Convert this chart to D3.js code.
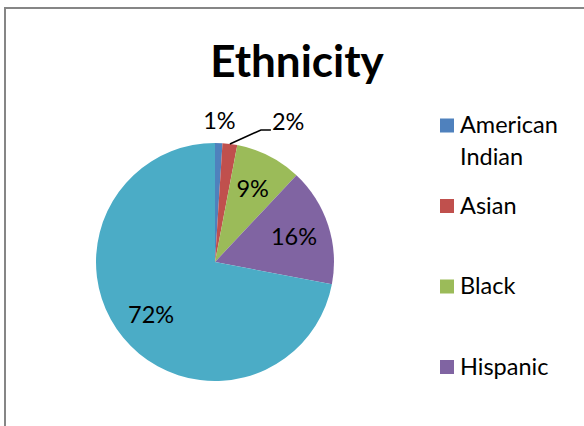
<!DOCTYPE html>
<html>
<head>
<meta charset="utf-8">
<script src="https://cdn.jsdelivr.net/npm/d3@7"></script>
<style>
  html, body { margin: 0; padding: 0; background: #fff; }
  svg { display: block; }
</style>
</head>
<body>
<div id="chart"></div>
<script>
// Ethnicity breakdown (percent of total)
const categories = ["American Indian", "Asian", "Black", "Hispanic", "White"];
const values = [1, 2, 9, 16, 72];
const colors = ["#4F81BD", "#C0504D", "#9BBB59", "#8064A2", "#4BACC6"];
const title = "Ethnicity";

const W = 584, H = 426;
const font = "Lato, 'Open Sans', sans-serif";

const svg = d3.select("#chart").append("svg")
  .attr("width", W).attr("height", H)
  .attr("viewBox", `0 0 ${W} ${H}`);

// chart frame (runs past the right and bottom edges)
svg.append("rect")
  .attr("x", 5).attr("y", 8)
  .attr("width", W + 40).attr("height", H + 40)
  .attr("fill", "#fff")
  .attr("stroke", "#868686")
  .attr("stroke-width", 2);

// title
svg.append("text")
  .attr("x", 297).attr("y", 77)
  .attr("text-anchor", "middle")
  .attr("font-family", font)
  .attr("font-weight", "bold")
  .attr("font-size", 44)
  .attr("fill", "#000")
  .text(title);

// pie
const cx = 215, cy = 262, R = 119;
const color = d3.scaleOrdinal().domain(categories).range(colors);
const pie = d3.pie().sort(null).value(d => d.value);
const arcs = pie(categories.map((c, i) => ({ name: c, value: values[i] })));
const arc = d3.arc().innerRadius(0).outerRadius(R);
const innerLabelArc = d3.arc().innerRadius(83).outerRadius(83);
const outerLabelArc = d3.arc().innerRadius(142).outerRadius(142);
const edgeArc = d3.arc().innerRadius(R).outerRadius(R);

const g = svg.append("g").attr("transform", `translate(${cx},${cy})`);

g.selectAll("path.slice")
  .data(arcs)
  .join("path")
  .attr("class", "slice")
  .attr("d", arc)
  .attr("fill", d => color(d.data.name));

const total = d3.sum(values);
const pct = v => Math.round(v / total * 100) + "%";
const labelSize = 23.5;

// slices too thin for an inside label get their label outside
const small = arcs.filter(d => d.data.value / total < 0.05);
const big = arcs.filter(d => d.data.value / total >= 0.05);

g.selectAll("text.inside")
  .data(big)
  .join("text")
  .attr("class", "inside")
  .attr("transform", d => `translate(${innerLabelArc.centroid(d)})`)
  .attr("text-anchor", "middle")
  .attr("dy", "0.36em")
  .attr("font-family", font)
  .attr("font-size", labelSize)
  .attr("fill", "#000")
  .text(d => pct(d.data.value));

small.forEach((d, k) => {
  if (k === 0) {
    const [x, y] = outerLabelArc.centroid(d);
    g.append("text")
      .attr("x", x).attr("y", y)
      .attr("dy", "0.36em")
      .attr("text-anchor", "middle")
      .attr("font-family", font)
      .attr("font-size", labelSize)
      .attr("fill", "#000")
      .text(pct(d.data.value));
  } else {
    // crowded label moved to the right with a leader line
    const [ex, ey] = edgeArc.centroid(d);
    const elbow = [ex + 31, ey - 14];
    const end = [elbow[0] + 10, elbow[1]];
    g.append("path")
      .attr("d", d3.line()([[ex, ey], elbow, end]))
      .attr("fill", "none")
      .attr("stroke", "#000")
      .attr("stroke-width", 1.6);
    g.append("text")
      .attr("x", end[0] + 1).attr("y", end[1])
      .attr("text-anchor", "start")
      .attr("font-family", font)
      .attr("font-size", labelSize)
      .attr("fill", "#000")
      .text(pct(d.data.value));
  }
});

// legend
const legend = svg.append("g");
const lx = 440, ly = 133, step = 80.5, lineH = 32, sq = 14;
categories.forEach((c, i) => {
  const y = ly + i * step;
  if (y - sq > H) return;
  legend.append("rect")
    .attr("x", lx).attr("y", y - sq - 0.5)
    .attr("width", sq).attr("height", sq)
    .attr("fill", color(c));
  const t = legend.append("text")
    .attr("font-family", font)
    .attr("font-size", labelSize)
    .attr("fill", "#000");
  c.split(" ").forEach((w, j) => {
    t.append("tspan").attr("x", lx + sq + 6).attr("y", y + j * lineH).text(w);
  });
});
</script>
</body>
</html>
